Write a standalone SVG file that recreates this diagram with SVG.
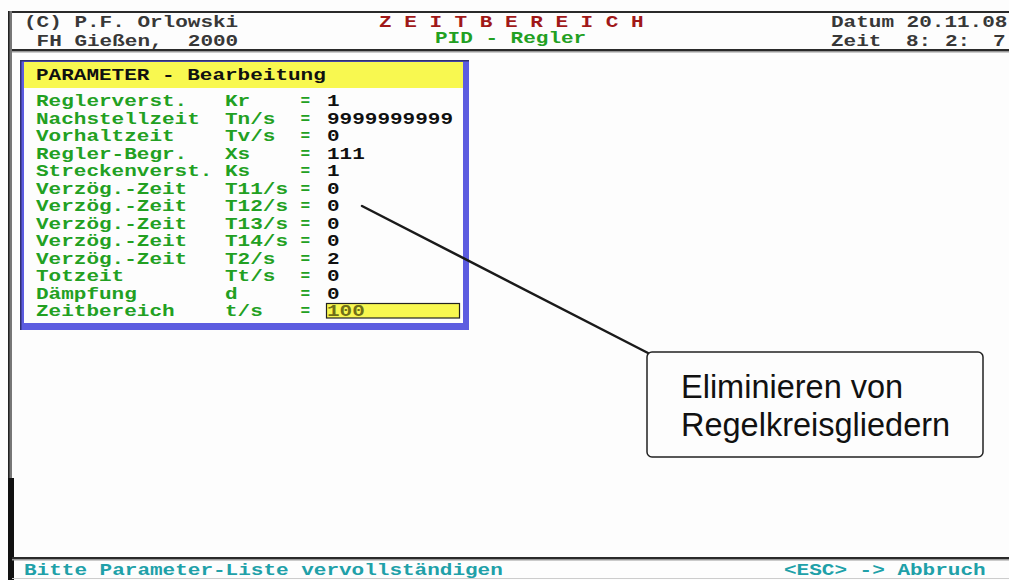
<svg xmlns="http://www.w3.org/2000/svg" width="1009" height="580" viewBox="0 0 1009 580">
<style>
.m{font-family:"Liberation Mono","DejaVu Sans Mono",monospace;font-size:16px;font-weight:bold}
.hd{fill:#383838}
.red{fill:#a01818}
.grn{fill:#22a022}
.blk{fill:#101010}
.teal{fill:#20a0a8}
.ol{fill:#707018}
.call{font-family:"Liberation Sans",Arial,sans-serif;font-size:32.5px;fill:#111}
</style>
<rect width="1009" height="580" fill="#fdfdfd"/>
<g id="frame">
<rect x="8" y="11" width="1001" height="2" fill="#2a2a2a"/>
<rect x="8" y="11" width="4" height="569" fill="#777"/>
<rect x="8" y="11" width="1.5" height="569" fill="#222"/>
<rect x="8" y="478" width="6" height="102" fill="#111"/>
<rect x="12" y="49" width="997" height="2" fill="#2a2a2a"/>
<rect x="12" y="51" width="997" height="1.5" fill="#999"/>
<rect x="12" y="557" width="997" height="2" fill="#2a2a2a"/>
<rect x="12" y="559" width="997" height="1.5" fill="#999"/>
<rect x="12" y="578" width="997" height="1" fill="#ccc"/>
</g>
<g id="header">
<text class="m hd" x="24" y="27" textLength="214.2" lengthAdjust="spacingAndGlyphs">(C) P.F. Orlowski</text>
<text class="m hd" x="36.6" y="46" textLength="126" lengthAdjust="spacingAndGlyphs">FH Gießen,</text>
<text class="m hd" x="187.8" y="46" textLength="50.4" lengthAdjust="spacingAndGlyphs">2000</text>
<text class="m red" x="379" y="27" textLength="264.6" lengthAdjust="spacingAndGlyphs">Z E I T B E R E I C H</text>
<text class="m grn" x="435" y="43" textLength="151.2" lengthAdjust="spacingAndGlyphs">PID - Regler</text>
<text class="m hd" x="831" y="27" textLength="176.4" lengthAdjust="spacingAndGlyphs">Datum 20.11.08</text>
<text class="m hd" x="831" y="46" textLength="50.4" lengthAdjust="spacingAndGlyphs">Zeit</text>
<text class="m hd" x="906" y="46" textLength="25.2" lengthAdjust="spacingAndGlyphs">8:</text>
<text class="m hd" x="945" y="46" textLength="25.2" lengthAdjust="spacingAndGlyphs">2:</text>
<text class="m hd" x="993" y="46" textLength="12.6" lengthAdjust="spacingAndGlyphs">7</text>
</g>
<g id="param-box">
<rect x="20" y="60" width="449" height="270" fill="#5c5ce0"/>
<rect x="20" y="60" width="449" height="1.5" fill="#303070"/>
<rect x="20" y="60" width="1.5" height="270" fill="#303070"/>
<rect x="24" y="62" width="439" height="261" fill="#fdfdfd"/>
<rect x="24" y="62" width="439" height="26" fill="#f8f850"/>
<text class="m blk" x="36" y="80" textLength="289.8" lengthAdjust="spacingAndGlyphs">PARAMETER - Bearbeitung</text>
<g class="m grn">
<text x="36" y="106" textLength="151.2" lengthAdjust="spacingAndGlyphs">Reglerverst.</text>
<text x="36" y="123.5" textLength="163.8" lengthAdjust="spacingAndGlyphs">Nachstellzeit</text>
<text x="36" y="141" textLength="138.6" lengthAdjust="spacingAndGlyphs">Vorhaltzeit</text>
<text x="36" y="158.5" textLength="151.2" lengthAdjust="spacingAndGlyphs">Regler-Begr.</text>
<text x="36" y="176" textLength="176.4" lengthAdjust="spacingAndGlyphs">Streckenverst.</text>
<text x="36" y="193.5" textLength="151.2" lengthAdjust="spacingAndGlyphs">Verzög.-Zeit</text>
<text x="36" y="211" textLength="151.2" lengthAdjust="spacingAndGlyphs">Verzög.-Zeit</text>
<text x="36" y="228.5" textLength="151.2" lengthAdjust="spacingAndGlyphs">Verzög.-Zeit</text>
<text x="36" y="246" textLength="151.2" lengthAdjust="spacingAndGlyphs">Verzög.-Zeit</text>
<text x="36" y="263.5" textLength="151.2" lengthAdjust="spacingAndGlyphs">Verzög.-Zeit</text>
<text x="36" y="281" textLength="88.2" lengthAdjust="spacingAndGlyphs">Totzeit</text>
<text x="36" y="298.5" textLength="100.8" lengthAdjust="spacingAndGlyphs">Dämpfung</text>
<text x="36" y="316" textLength="138.6" lengthAdjust="spacingAndGlyphs">Zeitbereich</text>
<text x="225" y="106" textLength="25.2" lengthAdjust="spacingAndGlyphs">Kr</text>
<text x="225" y="123.5" textLength="50.4" lengthAdjust="spacingAndGlyphs">Tn/s</text>
<text x="225" y="141" textLength="50.4" lengthAdjust="spacingAndGlyphs">Tv/s</text>
<text x="225" y="158.5" textLength="25.2" lengthAdjust="spacingAndGlyphs">Xs</text>
<text x="225" y="176" textLength="25.2" lengthAdjust="spacingAndGlyphs">Ks</text>
<text x="225" y="193.5" textLength="63" lengthAdjust="spacingAndGlyphs">T11/s</text>
<text x="225" y="211" textLength="63" lengthAdjust="spacingAndGlyphs">T12/s</text>
<text x="225" y="228.5" textLength="63" lengthAdjust="spacingAndGlyphs">T13/s</text>
<text x="225" y="246" textLength="63" lengthAdjust="spacingAndGlyphs">T14/s</text>
<text x="225" y="263.5" textLength="50.4" lengthAdjust="spacingAndGlyphs">T2/s</text>
<text x="225" y="281" textLength="50.4" lengthAdjust="spacingAndGlyphs">Tt/s</text>
<text x="225" y="298.5" textLength="12.6" lengthAdjust="spacingAndGlyphs">d</text>
<text x="225" y="316" textLength="37.8" lengthAdjust="spacingAndGlyphs">t/s</text>
<text x="300.6" y="106">=</text>
<text x="300.6" y="123.5">=</text>
<text x="300.6" y="141">=</text>
<text x="300.6" y="158.5">=</text>
<text x="300.6" y="176">=</text>
<text x="300.6" y="193.5">=</text>
<text x="300.6" y="211">=</text>
<text x="300.6" y="228.5">=</text>
<text x="300.6" y="246">=</text>
<text x="300.6" y="263.5">=</text>
<text x="300.6" y="281">=</text>
<text x="300.6" y="298.5">=</text>
<text x="300.6" y="316">=</text>
</g>
<g class="m blk">
<text x="327" y="106" textLength="12.6" lengthAdjust="spacingAndGlyphs">1</text>
<text x="327" y="123.5" textLength="126" lengthAdjust="spacingAndGlyphs">9999999999</text>
<text x="327" y="141" textLength="12.6" lengthAdjust="spacingAndGlyphs">0</text>
<text x="327" y="158.5" textLength="37.8" lengthAdjust="spacingAndGlyphs">111</text>
<text x="327" y="176" textLength="12.6" lengthAdjust="spacingAndGlyphs">1</text>
<text x="327" y="193.5" textLength="12.6" lengthAdjust="spacingAndGlyphs">0</text>
<text x="327" y="211" textLength="12.6" lengthAdjust="spacingAndGlyphs">0</text>
<text x="327" y="228.5" textLength="12.6" lengthAdjust="spacingAndGlyphs">0</text>
<text x="327" y="246" textLength="12.6" lengthAdjust="spacingAndGlyphs">0</text>
<text x="327" y="263.5" textLength="12.6" lengthAdjust="spacingAndGlyphs">2</text>
<text x="327" y="281" textLength="12.6" lengthAdjust="spacingAndGlyphs">0</text>
<text x="327" y="298.5" textLength="12.6" lengthAdjust="spacingAndGlyphs">0</text>
</g>
<rect x="326.5" y="303.5" width="133" height="14.5" fill="#f8f850" stroke="#222" stroke-width="1.2"/>
<text class="m ol" x="327" y="316" textLength="37.8" lengthAdjust="spacingAndGlyphs">100</text>
</g>
<g id="footer">
<text class="m teal" x="24" y="575" textLength="478.8" lengthAdjust="spacingAndGlyphs">Bitte Parameter-Liste vervollständigen</text>
<text class="m teal" x="784" y="575" textLength="201.6" lengthAdjust="spacingAndGlyphs">&lt;ESC&gt; -&gt; Abbruch</text>
</g>
<g id="connectors">
<line x1="362" y1="206" x2="648" y2="353" stroke="#1a1a1a" stroke-width="2.5" stroke-linecap="round"/>
</g>
<g id="callout">
<rect x="647" y="352" width="336" height="105" rx="5" fill="#fdfdfd" stroke="#222" stroke-width="1.5"/>
<text class="call" x="681" y="398">Eliminieren von</text>
<text class="call" x="681" y="436">Regelkreisgliedern</text>
</g>
</svg>
